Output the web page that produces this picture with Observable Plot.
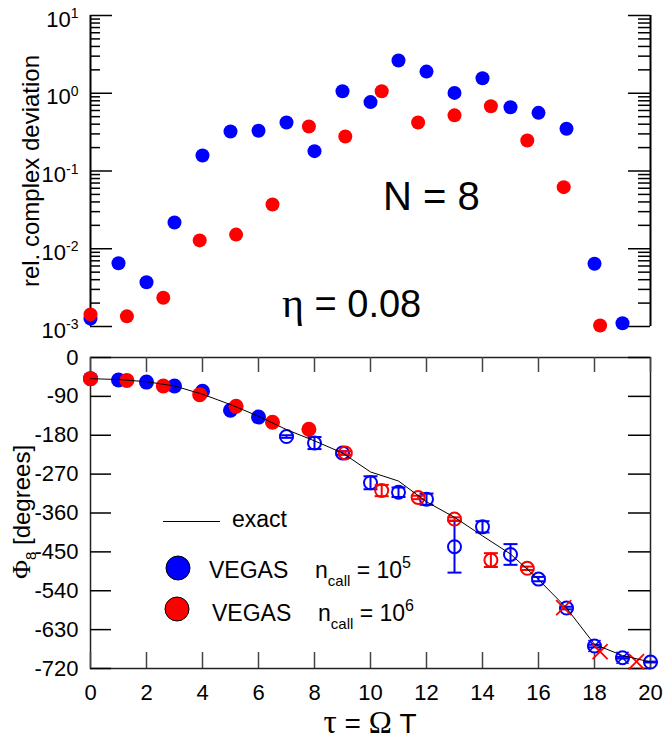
<!DOCTYPE html>
<html><head><meta charset="utf-8">
<script src="https://cdn.jsdelivr.net/npm/d3@7"></script>
<script src="https://cdn.jsdelivr.net/npm/@observablehq/plot@0.6"></script>
<style>
body{margin:0;background:#fff;}
#wrap{position:relative;width:664px;height:744px;font-family:"Liberation Sans",Arial,Helvetica,sans-serif;}
#wrap svg{position:absolute;left:0;}
</style></head><body><div id="wrap"></div>
<script>
// ---------- data ----------
const xTicks = [0,2,4,6,8,10,12,14,16,18,20];
const yTicksPhase = [0,-90,-180,-270,-360,-450,-540,-630,-720];
const logMajor = [1e-3,1e-2,1e-1,1,10];
const logMinor = [2,3,4,5,6,7,8,9].flatMap(m => [1e-3,1e-2,1e-1,1].map(p => m*p));

// top panel: relative complex deviation
const tauTopBlue = [0,1,2,3,4,5,6,7,8,9,10,11,12,13,14,15,16,17,18,19];
const devTopBlue = [1.27e-3,6.5e-3,3.7e-3,0.0218,0.158,0.322,0.33,0.42,0.18,1.06,0.77,2.64,1.9,1.01,1.56,0.66,0.56,0.35,6.4e-3,1.1e-3];
const tauTopRed = [0,1.3,2.6,3.9,5.2,6.5,7.8,9.1,10.4,11.7,13.0,14.3,15.6,16.9,18.2];
const devTopRed = [1.43e-3,1.35e-3,2.34e-3,0.0128,0.0152,0.037,0.373,0.278,1.06,0.42,0.52,0.68,0.247,0.062,1.03e-3];

// bottom panel: phase
const tauExact = [0,1,2,3,4,5,6,7,8,9,10,11,12,13,14,15,16,17,18,19,20];
const phaseExact = [-49,-51,-56,-66,-85,-109,-136,-167,-193,-221,-265,-286,-334,-370,-413,-455,-514,-580,-664,-690,-705];

const tauBlue = [0,1,2,3,4,5,6,7,8,9,10,11,12,13,14,15,16,17,18,19,20];
const phaseBlue = [-49,-52,-57,-66,-78,-122,-138,-183,-198,-221,-290,-312,-328,-438,-392,-456,-513,-580,-668,-695,-705];
const errBlue = [0,0,0,0,0,0,0,3,14,4,15,11,13,60,13,24,5,3,3,2,1];
const markerBlue = ["dot","dot","dot","dot","dot","dot","dot","ring","ring","ring","ring","ring","ring","ring","ring","ring","ring","ring","ringx","ringx","ring"];

const tauRed = [0,1.3,2.6,3.9,5.2,6.5,7.8,9.1,10.4,11.7,13.0,14.3,15.6,16.9,18.2,19.5];
const phaseRed = [-49,-53,-66,-86,-113,-150,-166,-221,-308,-324,-374,-469,-488,-579,-681,-704];
const errRed = [0,0,0,0,0,0,0,4,13,4,4,16,4,0,0,0];
const markerRed = ["dot","dot","dot","dot","dot","dot","dot","ring","ring","ring","ring","ring","ring","x","x","x"];

const BLUE = "#0000ff", RED = "#ff0000";
const FONT = '"Liberation Sans", Arial, Helvetica, sans-serif';

// ---------- helpers ----------
const topBlue = tauTopBlue.map((t,i)=>({tau:t, v:devTopBlue[i]}));
const topRed = tauTopRed.map((t,i)=>({tau:t, v:devTopRed[i]}));
const exact = tauExact.map((t,i)=>({tau:t, v:phaseExact[i]}));
const blue = tauBlue.map((t,i)=>({tau:t, v:phaseBlue[i], e:errBlue[i], m:markerBlue[i]}));
const red = tauRed.map((t,i)=>({tau:t, v:phaseRed[i], e:errRed[i], m:markerRed[i]}));

const capSym = {draw(ctx,size){const r=Math.sqrt(size/Math.PI);ctx.moveTo(-r,0);ctx.lineTo(r,0);}};
const crossSym = {draw(ctx,size){const r=Math.sqrt(size/Math.PI);ctx.moveTo(-r,-r);ctx.lineTo(r,r);ctx.moveTo(-r,r);ctx.lineTo(r,-r);}};

const W = 664;
const ML = 90, MR = 14;
const innerW = W - ML - MR;

// ---------- top panel ----------
const topH = 345, topMT = 15, topMB = 19;
const topPlot = Plot.plot({
  width: W, height: topH, marginTop: topMT, marginBottom: topMB, marginLeft: ML, marginRight: MR,
  style: {fontFamily: FONT, fontSize: "22px", background: "transparent", overflow: "visible", color: "black"},
  x: {domain: [0,20], axis: null},
  y: {type: "log", domain: [1e-3,10], axis: null},
  marks: [
    Plot.ruleX([0,20], {stroke: "black", strokeWidth: 2}),
    Plot.ruleY(logMajor, {stroke: "black", strokeWidth: 1.5, insetRight: innerW - 22}),
    Plot.ruleY(logMinor, {stroke: "black", strokeWidth: 1.5, insetRight: innerW - 10}),
    Plot.ruleY(logMajor, {stroke: "black", strokeWidth: 1.5, insetLeft: innerW - 22}),
    Plot.ruleY(logMinor, {stroke: "black", strokeWidth: 1.5, insetLeft: innerW - 12}),
    Plot.axisY({ticks: logMajor, anchor: "left", tickSize: 0, tickPadding: 12, dy: 4, fontSize: 22, label: null,
      tickFormat: d => "10^" + Math.round(Math.log10(d))}),
    Plot.dot(topBlue, {x: "tau", y: "v", r: 7, fill: BLUE}),
    Plot.dot(topRed, {x: "tau", y: "v", r: 7, fill: RED})
  ]
});
topPlot.style.top = "0px";
d3.select(topPlot).selectAll("text").each(function(){
  const s = this.textContent;
  if (s.includes("^")) {
    const [b, e] = s.split("^");
    const t = d3.select(this);
    t.text(null);
    t.append("tspan").text(b);
    t.append("tspan").attr("dy","-0.6em").attr("font-size","14px").text(e);
  }
});
document.getElementById("wrap").appendChild(topPlot);

// ---------- bottom panel ----------
const botTop = 345, botH = 399, botMT = 12, botMB = 76;
const innerH = botH - botMT - botMB;
const withErr = d => d.filter(p => p.e > 0);
const botPlot = Plot.plot({
  width: W, height: botH, marginTop: botMT, marginBottom: botMB, marginLeft: ML, marginRight: MR,
  style: {fontFamily: FONT, fontSize: "22px", background: "transparent", overflow: "visible", color: "black"},
  x: {domain: [0,20], axis: null},
  y: {domain: [-720,0], axis: null},
  marks: [
    Plot.frame({stroke: "#222", strokeWidth: 1.5}),
    Plot.ruleY(yTicksPhase, {stroke: "black", strokeWidth: 1.5, insetRight: innerW - 21}),
    Plot.ruleY(yTicksPhase, {stroke: "black", strokeWidth: 1.5, insetLeft: innerW - 22}),
    Plot.ruleX(xTicks, {stroke: "#444", strokeWidth: 1.5, insetTop: innerH - 16}),
    Plot.ruleX(xTicks, {stroke: "#444", strokeWidth: 1.5, insetBottom: innerH - 15}),
    Plot.axisY({ticks: yTicksPhase, anchor: "left", tickSize: 0, tickPadding: 12, fontSize: 22, label: null, tickFormat: d => String(d)}),
    Plot.axisX({ticks: xTicks, anchor: "bottom", tickSize: 0, tickPadding: 16, fontSize: 22, label: null, tickFormat: d => String(d)}),
    // blue series
    Plot.dot(blue.filter(d => d.m === "dot"), {x: "tau", y: "v", r: 7.5, fill: BLUE}),
    Plot.ruleX(withErr(blue), {x: "tau", y1: d => d.v - d.e, y2: d => d.v + d.e, stroke: BLUE, strokeWidth: 2}),
    Plot.dot(withErr(blue), {x: "tau", y: d => d.v + d.e, r: 7, symbol: capSym, fill: "none", stroke: BLUE, strokeWidth: 2}),
    Plot.dot(withErr(blue), {x: "tau", y: d => d.v - d.e, r: 7, symbol: capSym, fill: "none", stroke: BLUE, strokeWidth: 2}),
    Plot.dot(blue.filter(d => d.m.startsWith("ring")), {x: "tau", y: "v", r: 6.5, fill: "none", stroke: BLUE, strokeWidth: 2}),
    Plot.dot(blue.filter(d => d.m === "ringx"), {x: "tau", y: "v", r: 6, symbol: crossSym, fill: "none", stroke: BLUE, strokeWidth: 1.5}),
    // red series
    Plot.dot(red.filter(d => d.m === "dot"), {x: "tau", y: "v", r: 7.5, fill: RED}),
    Plot.ruleX(withErr(red), {x: "tau", y1: d => d.v - d.e, y2: d => d.v + d.e, stroke: RED, strokeWidth: 2}),
    Plot.dot(withErr(red), {x: "tau", y: d => d.v + d.e, r: 7, symbol: capSym, fill: "none", stroke: RED, strokeWidth: 2}),
    Plot.dot(withErr(red), {x: "tau", y: d => d.v - d.e, r: 7, symbol: capSym, fill: "none", stroke: RED, strokeWidth: 2}),
    Plot.dot(red.filter(d => d.m === "ring"), {x: "tau", y: "v", r: 6.5, fill: "none", stroke: RED, strokeWidth: 2}),
    Plot.dot(red.filter(d => d.m === "x"), {x: "tau", y: "v", r: 7.5, symbol: crossSym, fill: "none", stroke: RED, strokeWidth: 1.8}),
    // exact curve
    Plot.line(exact, {x: "tau", y: "v", stroke: "black", strokeWidth: 1})
  ]
});
botPlot.style.top = botTop + "px";
document.getElementById("wrap").appendChild(botPlot);

// ---------- annotations / legend overlay ----------
const ov = d3.select("#wrap").append("svg")
  .attr("width", W).attr("height", 744).style("top","0px").style("pointer-events","none")
  .attr("font-family", FONT).attr("fill","black");

function rich(x, y, size, parts, {anchor = "start", rotate = 0} = {}) {
  const t = ov.append("text").attr("font-size", size).attr("text-anchor", anchor)
    .attr("transform", `translate(${x},${y}) rotate(${rotate})`);
  for (const p of parts) {
    const s = t.append("tspan").text(p.t);
    if (p.dy != null) s.attr("dy", p.dy);
    if (p.x != null) s.attr("x", p.x);
    if (p.size) s.attr("font-size", p.size);
    if (p.family) s.attr("font-family", p.family);
  }
  return t;
}

// top panel
rich(39, 171, 24, [{t: "rel. complex deviation"}], {anchor: "middle", rotate: -90});
rich(383, 210, 40, [{t: "N = 8"}]);
rich(282, 317, 38, [{t: "\u03b7", family: '"Liberation Serif", serif', size: 42}, {t: " = 0.08"}]);

// bottom panel y title
rich(30, 512, 24, [
  {t: "\u03a6", family: '"Liberation Serif", serif', size: 26},
  {t: "8", dy: 6, size: 15},
  {t: " [degrees]", dy: -6}
], {anchor: "middle", rotate: -90});

// x title
rich(370, 733, 28, [
  {t: "\u03c4", family: '"Liberation Serif", serif', size: 33},
  {t: " = "},
  {t: "\u03a9", family: '"Liberation Serif", serif', size: 31},
  {t: " T"}
], {anchor: "middle"});

// legend
ov.append("line").attr("x1",163).attr("x2",220).attr("y1",521.5).attr("y2",521.5).attr("stroke","black").attr("stroke-width",1.2);
rich(232, 527, 23, [{t: "exact"}]);
ov.append("circle").attr("cx",178).attr("cy",568).attr("r",12).attr("fill",BLUE).attr("stroke","black").attr("stroke-width",1);
ov.append("circle").attr("cx",177).attr("cy",609).attr("r",12).attr("fill",RED).attr("stroke","black").attr("stroke-width",1);
rich(209, 578, 23, [
  {t: "VEGAS"}, {t: "n", x: 106}, {t: "call", dy: 8, size: 15}, {t: " = 10", dy: -8}, {t: "5", dy: -10, size: 16}
]);
rich(212, 621, 23, [
  {t: "VEGAS"}, {t: "n", x: 106}, {t: "call", dy: 8, size: 15}, {t: " = 10", dy: -8}, {t: "6", dy: -10, size: 16}
]);
</script></body></html>
